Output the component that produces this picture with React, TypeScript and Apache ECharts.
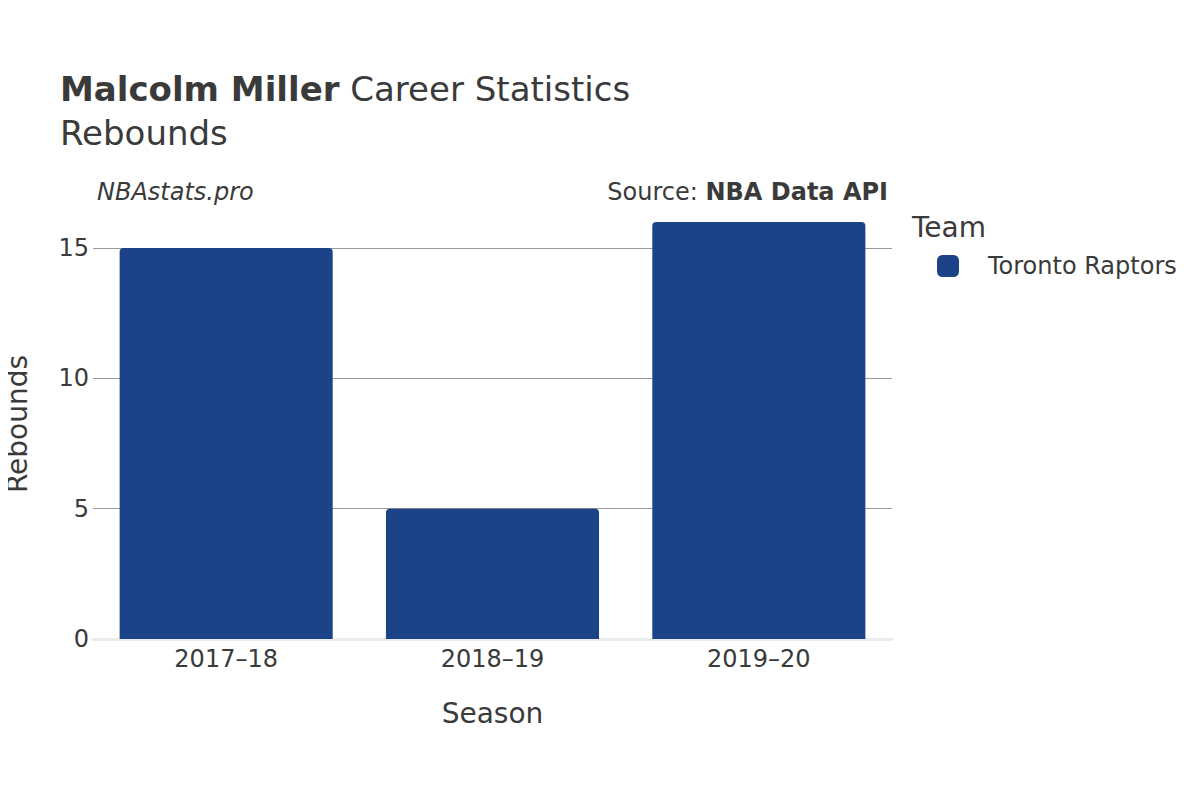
import React, { useEffect, useRef } from "react";
import * as echarts from "echarts";

const seasons = ["2017–18", "2018–19", "2019–20"];
const rebounds = [15, 5, 16];
const teamName = "Toronto Raptors";
const teamColor = "#1c4387";

export default function App() {
  const ref = useRef<HTMLDivElement>(null);
  useEffect(() => {
    const chart = echarts.init(ref.current!, null, { renderer: "svg" });
    const font = "DejaVu Sans";
    chart.setOption({
      animation: false,
      textStyle: { fontFamily: font },
      title: [
        {
          text: "{b|Malcolm Miller} Career Statistics",
          left: 55,
          top: 67,
          textStyle: {
            fontFamily: font,
            fontSize: 34,
            fontWeight: "normal",
            color: "#3a3a3a",
            rich: { b: { fontFamily: font, fontSize: 34, fontWeight: "bold", color: "#3a3a3a" } },
          },
        },
        {
          text: "Rebounds",
          left: 55,
          top: 111,
          textStyle: { fontFamily: font, fontSize: 34, fontWeight: "normal", color: "#3a3a3a" },
        },
        {
          text: "NBAstats.pro",
          left: 92,
          top: 175,
          textStyle: { fontFamily: font, fontSize: 24, fontStyle: "italic", fontWeight: "normal", color: "#3a3a3a" },
        },
        {
          text: "Source: {b|NBA Data API}",
          right: 307,
          top: 175,
          textStyle: {
            fontFamily: font,
            fontSize: 24,
            fontWeight: "normal",
            color: "#3a3a3a",
            rich: { b: { fontFamily: font, fontSize: 24, fontWeight: "bold", color: "#3a3a3a" } },
          },
        },
        {
          text: "Team",
          left: 907,
          top: 208,
          textStyle: { fontFamily: font, fontSize: 28, fontWeight: "normal", color: "#3a3a3a" },
        },
      ],
      legend: {
        left: 932,
        top: 249,
        icon: "roundRect",
        itemWidth: 22,
        itemHeight: 22,
        itemGap: 10,
        textStyle: { fontFamily: font, fontSize: 24, color: "#3a3a3a", padding: [0, 0, 0, 24] },
        data: [teamName],
      },
      grid: { left: 93, right: 308, top: 209, bottom: 161, containLabel: false, outerBoundsMode: "none" },
      xAxis: {
        type: "category",
        data: seasons,
        name: "Season",
        nameLocation: "middle",
        nameGap: 60,
        nameTextStyle: { fontFamily: font, fontSize: 28, color: "#3a3a3a" },
        axisLine: { show: true, lineStyle: { color: "#ebebeb", width: 3 } },
        axisTick: { show: false },
        axisLabel: { fontFamily: font, fontSize: 24, color: "#3a3a3a", margin: 8 },
      },
      yAxis: {
        type: "value",
        min: 0,
        max: 16.5,
        interval: 5,
        name: "Rebounds",
        nameLocation: "middle",
        nameGap: 62,
        nameTextStyle: { fontFamily: font, fontSize: 28, color: "#3a3a3a" },
        axisLine: { show: false },
        axisTick: { show: false },
        axisLabel: { fontFamily: font, fontSize: 24, color: "#3a3a3a", margin: 4, showMaxLabel: false },
        splitLine: { show: true, showMinLine: false, showMaxLine: false, lineStyle: { color: "#999999", width: 1 } },
      },
      series: [
        {
          name: teamName,
          type: "bar",
          data: rebounds,
          barCategoryGap: "20%",
          itemStyle: { color: teamColor, borderRadius: [4, 4, 0, 0] },
        },
      ],
    });
    return () => chart.dispose();
  }, []);
  return <div ref={ref} style={{ width: 1200, height: 800, margin: -8 }} />;
}
